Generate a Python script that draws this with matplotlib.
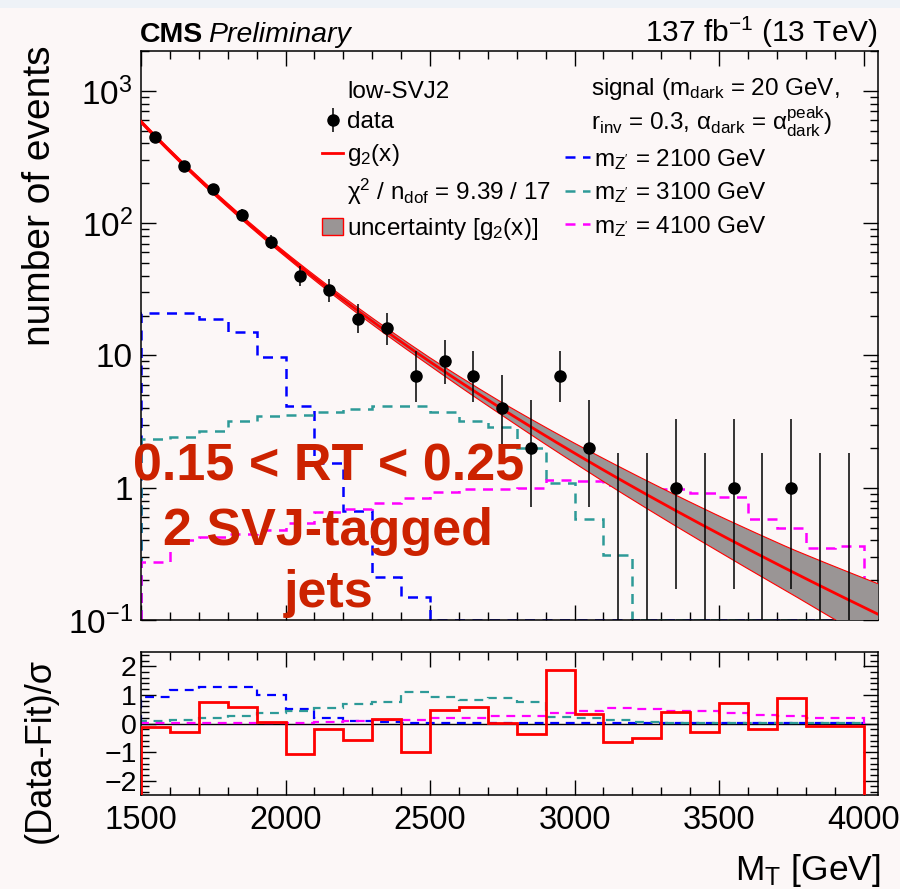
import numpy as np
import matplotlib

matplotlib.use("Agg")
import matplotlib.pyplot as plt
from matplotlib.lines import Line2D
from matplotlib.patches import Patch, Rectangle
from matplotlib.ticker import MultipleLocator, LogLocator, NullFormatter

plt.rcParams["font.family"] = ["Liberation Sans", "DejaVu Sans"]
plt.rcParams["mathtext.fontset"] = "custom"
plt.rcParams["mathtext.rm"] = "Liberation Sans"
plt.rcParams["mathtext.it"] = "Liberation Sans:italic"
plt.rcParams["mathtext.bf"] = "Liberation Sans:bold"

# ---- data ----
bin_edges = np.arange(1500, 4001, 100)

data_counts = [446, 269, 182, 116, 72, 40, 31, 19, 16, 7, 9, 7, 4, 2, 7, 2,
               0, 0, 1, 0, 1, 0, 1, 0, 0]

sig_2100 = [20.8, 20.8, 19.0, 15.0, 9.8, 4.15, 1.53, 0.67, 0.21, 0.15,
            0, 0, 0, 0, 0, 0, 0, 0, 0, 0, 0, 0, 0, 0, 0]
sig_3100 = [2.34, 2.40, 2.67, 3.18, 3.51, 3.57, 3.72, 3.94, 4.17, 4.17,
            3.72, 3.18, 2.86, 1.98, 1.09, 0.585, 0.309,
            0, 0, 0, 0, 0, 0, 0, 0]
sig_4100 = [0.275, 0.40, 0.425, 0.45, 0.48, 0.54, 0.65, 0.69, 0.77, 0.83,
            0.93, 0.98, 0.98, 0.99, 1.14, 1.13, 1.05, 0.98, 0.98, 0.905,
            0.855, 0.58, 0.50, 0.353, 0.36]

# pulls in the lower panel
pull_data = [-0.13, -0.31, 0.74, 0.59, 0.05, -1.06, -0.20, -0.57, 0.16, -1.00,
             0.47, 0.59, 0.02, -0.36, 1.87, 0.34, -0.66, -0.51, 0.40, -0.28,
             0.73, -0.19, 0.90, -0.10, -0.10]
pull_2100 = [0.94, 1.17, 1.27, 1.27, 1.01, 0.51, 0.21, 0.10, 0.05, 0.02,
             0.01, 0.01, 0.01, 0.01, 0.01, 0.01, 0.01, 0.01, 0.01, 0.01,
             0.01, 0.01, 0.01, 0.01, 0.01]
pull_3100 = [0.10, 0.13, 0.19, 0.26, 0.36, 0.45, 0.55, 0.69, 0.74, 1.09,
             0.92, 0.83, 0.90, 0.74, 0.24, 0.20, 0.13, 0.05, 0.01, 0.01,
             0.01, 0.01, 0.01, 0.01, 0.01]
pull_4100 = [0.02, 0.02, 0.02, 0.02, 0.03, 0.03, 0.07, 0.09, 0.11, 0.13,
             0.18, 0.20, 0.27, 0.28, 0.36, 0.43, 0.55, 0.49, 0.45, 0.43,
             0.38, 0.31, 0.27, 0.20, 0.20]

# g2(x) = p0 (1-x)^p1 / x^p2, x = MT / 13 TeV
fit_log_p0 = -8.22
fit_p1 = 6.06
fit_p2 = 7.10
sqrt_s = 13000.0

# half width of the fit uncertainty band (log10)
band_mass = [1500, 2000, 2500, 2750, 3000, 3250, 3500, 3750, 4050]
band_halfwidth = [0.012, 0.016, 0.03, 0.048, 0.075, 0.105, 0.135, 0.17, 0.23]

x_ticks = [1500, 2000, 2500, 3000, 3500, 4000]
y_ticks = [0.1, 1, 10, 100, 1000]
y_ticklabels = ["10$^{\\mathrm{-1}}$", "1", "10", "10$^{2}$", "10$^{3}$"]
pull_ticks = [-2, -1, 0, 1, 2]
pull_ticklabels = ["\u22122", "\u22121", "0", "1", "2"]

BG = "#fcf7f7"
RED = "#ff0000"
TEAL = "#2e9a98"
BAND = "#9a9595"
YMIN, YMAX = 0.1, 2000
XMAX = 4050


def g2(m):
    x = m / sqrt_s
    return np.exp(fit_log_p0 + fit_p1 * np.log(1 - x) - fit_p2 * np.log(x))


def garwood(n):
    # Poisson 68% interval (Wilson-Hilferty approximation)
    n = np.asarray(n, float)
    up = (n + 1) * (1 - 1 / (9 * (n + 1)) + 1 / (3 * np.sqrt(n + 1))) ** 3
    nn = np.maximum(n, 1)
    lo = np.where(n > 0, nn * (1 - 1 / (9 * nn) - 1 / (3 * np.sqrt(nn))) ** 3, 0)
    return lo, up


fig = plt.figure(figsize=(9, 8.89), dpi=100, facecolor=BG)
fig.patches.append(Rectangle((0, 1 - 8 / 889), 1, 8 / 889, transform=fig.transFigure,
                             facecolor="#eef2f7", edgecolor="none"))
ax = fig.add_axes([0.1567, 0.3026, 0.8189, 0.6400], facecolor=BG)
rax = fig.add_axes([0.1567, 0.1057, 0.8189, 0.1609], facecolor=BG)

centers = bin_edges[:-1] + 50
counts = np.array(data_counts, float)
lo, up = garwood(counts)

# signals
dash = (0, (4, 3))
sig_handles = []
for vals, col in [(sig_2100, "blue"), (sig_3100, TEAL), (sig_4100, "magenta")]:
    v = np.array(vals, float)
    v = np.where(v > 0, v, YMIN)
    ax.stairs(v, bin_edges, baseline=YMIN, color=col, ls=dash, lw=1.8, zorder=2)
    sig_handles.append(Line2D([], [], color=col, ls=dash, lw=1.8))

# fit and uncertainty band
mm = np.linspace(1500, XMAX, 400)
fit = g2(mm)
hw = np.interp(mm, band_mass, band_halfwidth)
ax.fill_between(mm, fit * 10 ** (-hw), fit * 10 ** hw, facecolor=BAND,
                edgecolor="none", zorder=3)
ax.plot(mm, fit * 10 ** hw, color=RED, lw=0.8, zorder=3)
ax.plot(mm, fit * 10 ** (-hw), color=RED, lw=0.8, zorder=3)
ax.plot(mm, fit, color=RED, lw=2.0, zorder=4)

# data
nz = counts > 0
h_data = ax.errorbar(centers[nz], counts[nz],
                     yerr=[counts[nz] - lo[nz], up[nz] - counts[nz]],
                     fmt="o", color="black", ms=8, elinewidth=1.1, capsize=0,
                     zorder=5)
ax.vlines(centers[~nz], YMIN * 0.5, up[~nz], color="black", lw=1.1, zorder=5)

ax.set_xlim(1500, XMAX)
ax.set_yscale("log")
ax.set_ylim(YMIN, YMAX)
ax.set_yticks(y_ticks)
ax.set_yticklabels(y_ticklabels)
ax.yaxis.set_minor_locator(LogLocator(base=10, subs=np.arange(2, 10)))
ax.yaxis.set_minor_formatter(NullFormatter())
ax.xaxis.set_major_locator(MultipleLocator(500))
ax.xaxis.set_minor_locator(MultipleLocator(100))
ax.tick_params(which="both", direction="in", top=True, right=True, width=1.0,
               labelbottom=False, labelsize=24, pad=6)
ax.tick_params(which="major", length=11)
ax.tick_params(which="minor", length=5.5)
for s in ax.spines.values():
    s.set_linewidth(1.1)
ax.set_ylabel("number of events", fontsize=28)
ax.yaxis.set_label_coords(-0.113, 0.745)

# legends
blank = Line2D([], [], ls="none")
fit_h = Line2D([], [], color=RED, lw=2.0)
band_h = Patch(facecolor=BAND, edgecolor=RED, lw=1.0)
leg_kw = dict(loc="upper left", frameon=False, fontsize=17.5, handletextpad=0.15,
              labelspacing=0.36, borderpad=0, borderaxespad=0)
leg1 = ax.legend([blank, h_data, fit_h, blank, band_h],
                 ["low-SVJ2", "data", "g$_{\\mathrm{2}}$(x)",
                  "\u03c7$^{2}$ / n$_{\\mathrm{dof}}$ = 9.39 / 17",
                  "uncertainty [g$_{\\mathrm{2}}$(x)]"],
                 bbox_to_anchor=(0.245, 0.948), handlelength=0.9, **leg_kw)
ax.add_artist(leg1)
ax.legend(sig_handles,
          ["m$_{\\mathrm{Z'}}$ = 2100 GeV", "m$_{\\mathrm{Z'}}$ = 3100 GeV",
           "m$_{\\mathrm{Z'}}$ = 4100 GeV"],
          bbox_to_anchor=(0.575, 0.832), handlelength=1.05, **leg_kw)
hdr = dict(transform=ax.transAxes, fontsize=17.5, ha="left", va="center")
ax.text(0.610, 0.933, "signal (m$_{\\mathrm{dark}}$ = 20 GeV,", **hdr)
ax.text(0.610, 0.875,
        "r$_{\\mathrm{inv}}$ = 0.3, \u03b1$_{\\mathrm{dark}}$ = "
        "\u03b1$^{\\mathrm{peak}}_{\\mathrm{dark}}$)", **hdr)

# category text
red_txt = dict(transform=ax.transAxes, ha="center", va="baseline", fontsize=37.5,
               fontweight="bold", color="#cc2200", zorder=6)
ax.text(0.2540, 0.246, "0.15 < RT < 0.25", **red_txt)
ax.text(0.2540, 0.132, "2 SVJ-tagged", **red_txt)
ax.text(0.2540, 0.0228, "jets", **red_txt)

# header
fig.text(0.1556, 0.9528, "CMS", fontsize=20.5, fontweight="bold", va="baseline")
fig.text(0.2311, 0.9528, "Preliminary", fontsize=20.5, style="italic", va="baseline")
fig.text(0.9756, 0.9528, "137 fb$^{\\mathrm{-1}}$ (13 TeV)", fontsize=21.5,
         ha="right", va="baseline")

# pull panel
rax.axhline(0, color="black", lw=1.0, zorder=1)
for vals, col in [(pull_2100, "blue"), (pull_3100, TEAL), (pull_4100, "magenta")]:
    rax.stairs(vals, bin_edges, color=col, ls=dash, lw=1.6, zorder=2)
rax.stairs(pull_data, bin_edges, baseline=-2.5, color=RED, lw=2.0, zorder=3)
rax.set_xlim(1500, XMAX)
rax.set_ylim(-2.5, 2.5)
rax.set_yticks(pull_ticks)
rax.set_yticklabels(pull_ticklabels)
rax.yaxis.set_minor_locator(MultipleLocator(0.2))
rax.xaxis.set_major_locator(MultipleLocator(500))
rax.xaxis.set_minor_locator(MultipleLocator(100))
rax.set_xticks(x_ticks)
rax.tick_params(which="both", direction="in", top=True, right=True, width=1.0)
rax.tick_params(which="major", length=11)
rax.tick_params(which="minor", length=5.5)
rax.tick_params(axis="x", labelsize=23.5, pad=7)
rax.tick_params(axis="y", labelsize=20.5, pad=3)
for s in rax.spines.values():
    s.set_linewidth(1.1)
rax.set_ylabel("(Data-Fit)/\u03c3", fontsize=26)
rax.yaxis.set_label_coords(-0.113, 0.308)
rax.set_xlabel("M$_{\\mathrm{T}}$ [GeV]", fontsize=25.5, ha="right", va="baseline")
rax.xaxis.set_label_coords(1.003, -0.594)

fig.savefig("out.png", dpi=100, facecolor=BG)
